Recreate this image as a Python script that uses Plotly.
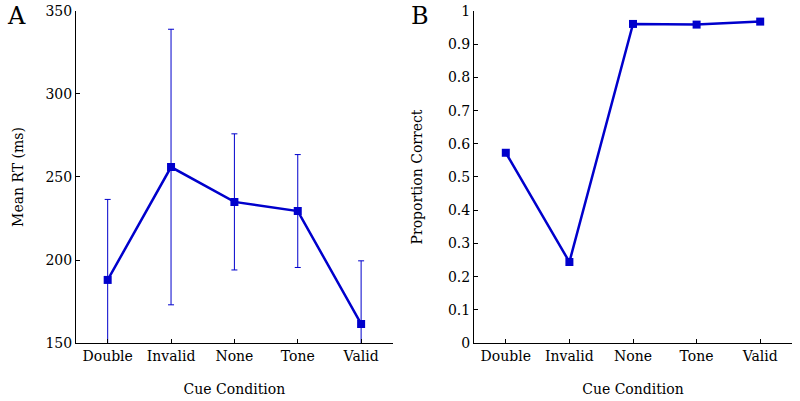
import plotly.graph_objects as go

# data
cues = ['Double', 'Invalid', 'None', 'Tone', 'Valid']
mean_rt = [188, 256, 235, 229.5, 161.5]
rt_err = [48.5, 83, 41, 34, 38]
prop_correct = [0.573, 0.244, 0.961, 0.959, 0.968]

blue = '#0000CC'
font = 'DejaVu Serif'

fig = go.Figure()

# panel A: mean RT with error bars
fig.add_trace(go.Scatter(
    x=cues, y=mean_rt, mode='lines+markers',
    line=dict(color=blue, width=2.5),
    marker=dict(symbol='square', size=8, color=blue),
    error_y=dict(type='data', array=rt_err, visible=True,
                 color=blue, thickness=1, width=3),
    xaxis='x', yaxis='y', showlegend=False))

# panel B: proportion correct
fig.add_trace(go.Scatter(
    x=cues, y=prop_correct, mode='lines+markers',
    line=dict(color=blue, width=2.5),
    marker=dict(symbol='square', size=8, color=blue),
    xaxis='x2', yaxis='y2', showlegend=False))

ax_common = dict(showline=True, linecolor='black', linewidth=1,
                 ticks='inside', ticklen=4, tickcolor='black',
                 showgrid=False, zeroline=False, mirror=False,
                 automargin=False, ticklabeloverflow='allow',
                 tickfont=dict(family=font, size=14, color='black'))
title_font = dict(family=font, size=14, color='black')

fig.update_layout(
    width=800, height=401,
    margin=dict(l=0, r=0, t=0, b=0),
    paper_bgcolor='white', plot_bgcolor='white',
    font=dict(family=font, size=14, color='black'),
    xaxis=dict(domain=[0.095, 0.491], anchor='y', range=[-0.5, 4.5],
               title=dict(text='Cue Condition', standoff=21, font=title_font),
               **ax_common),
    yaxis=dict(domain=[0.1446, 0.9726], anchor='x', range=[150, 350],
               tickvals=[150, 200, 250, 300, 350],
               title=dict(text='Mean RT (ms)', standoff=18, font=title_font),
               **ax_common),
    xaxis2=dict(domain=[0.5925, 0.99], anchor='y2', range=[-0.5, 4.5],
                title=dict(text='Cue Condition', standoff=21, font=title_font),
                **ax_common),
    yaxis2=dict(domain=[0.1446, 0.9726], anchor='x2', range=[0, 1],
                tickvals=[0, 0.1, 0.2, 0.3, 0.4, 0.5, 0.6, 0.7, 0.8, 0.9, 1],
                ticktext=['0', '0.1', '0.2', '0.3', '0.4', '0.5', '0.6',
                          '0.7', '0.8', '0.9', '1'],
                title=dict(text='Proportion Correct', standoff=22, font=title_font),
                **ax_common),
    annotations=[
        dict(text='A', x=0.0205, y=0.959, xref='paper', yref='paper',
             xanchor='center', yanchor='middle', showarrow=False,
             font=dict(family=font, size=24, color='black')),
        dict(text='B', x=0.5256, y=0.959, xref='paper', yref='paper',
             xanchor='center', yanchor='middle', showarrow=False,
             font=dict(family=font, size=24, color='black')),
    ],
)

# drop the page's default body margin so the figure sits at the window corner
fig.write_html('out.html', config={'displayModeBar': False},
               post_script="document.body.style.margin='0';")
